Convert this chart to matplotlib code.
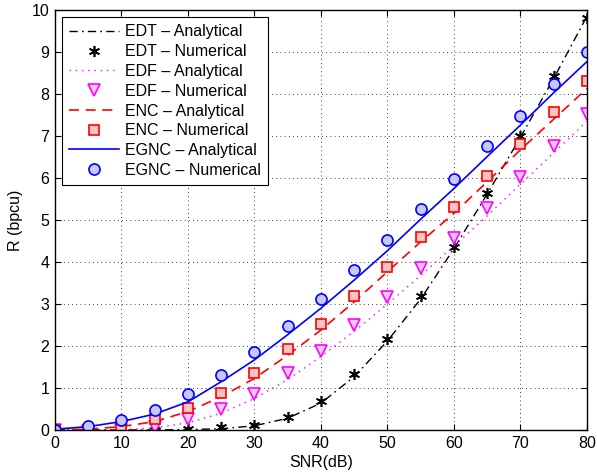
import numpy as np
import matplotlib
matplotlib.use('Agg')
import matplotlib.pyplot as plt

plt.rcParams['font.family'] = ['Liberation Sans', 'DejaVu Sans']
plt.rcParams['font.size'] = 11.5

# ---------------- DATA ----------------
snr = [0, 5, 10, 15, 20, 25, 30, 35, 40, 45, 50, 55, 60, 65, 70, 75, 80]

edt_ana = [0, 0, 0, 0, 0.01, 0.03, 0.1, 0.28, 0.64, 1.27, 2.12, 3.12, 4.32, 5.62, 6.97, 8.37, 9.85]
edt_num = [0, 0, 0, 0, 0.02, 0.06, 0.13, 0.32, 0.7, 1.33, 2.17, 3.19, 4.36, 5.65, 7.0, 8.43, 9.82]

edf_ana = [0, 0, 0.01, 0.05, 0.17, 0.4, 0.75, 1.2, 1.75, 2.35, 3.0, 3.68, 4.38, 5.1, 5.85, 6.6, 7.35]
edf_num = [0, -0.03, 0, 0.08, 0.25, 0.49, 0.86, 1.35, 1.89, 2.5, 3.17, 3.85, 4.57, 5.28, 6.02, 6.76, 7.52]

enc_ana = [0, 0.02, 0.08, 0.2, 0.44, 0.79, 1.23, 1.78, 2.38, 3.05, 3.77, 4.48, 5.16, 5.91, 6.67, 7.4, 8.13]
enc_num = [0, -0.01, 0.08, 0.25, 0.52, 0.89, 1.35, 1.92, 2.53, 3.19, 3.89, 4.6, 5.3, 6.05, 6.81, 7.56, 8.31]

egnc_ana = [0.02, 0.08, 0.2, 0.38, 0.67, 1.15, 1.67, 2.27, 2.9, 3.57, 4.27, 5.02, 5.75, 6.51, 7.26, 8.03, 8.77]
egnc_num = [0, 0.1, 0.24, 0.48, 0.85, 1.31, 1.86, 2.48, 3.13, 3.81, 4.53, 5.25, 5.98, 6.75, 7.48, 8.24, 9.0]

# ---------------- PLOT ----------------
fig = plt.figure(figsize=(5.97, 4.72), dpi=100)
ax = fig.add_axes([0.0921, 0.089, 0.8911, 0.8899])

ax.plot(snr, edt_ana, color='k', lw=1.0, dashes=(6, 3, 1.2, 3), label='EDT \u2013 Analytical')
ax.plot(snr, edt_num, ls='none', marker=(6, 2, 0), ms=8, mec='k', mew=1.2, color='k',
        label='EDT \u2013 Numerical')
ax.plot(snr, edf_ana, color='#ff00ff', lw=1.0, dashes=(1, 3.5), label='EDF \u2013 Analytical')
ax.plot(snr, edf_num, ls='none', marker='v', ms=8.5, mec='#ff00ff', mfc='#ffc8ff', mew=1.2,
        label='EDF \u2013 Numerical')
ax.plot(snr, enc_ana, color='#ff0000', lw=1.2, dashes=(6, 4), label='ENC \u2013 Analytical')
ax.plot(snr, enc_num, ls='none', marker='s', ms=6.5, mec='#ff0000', mfc='#f8c4c4', mew=1.2,
        label='ENC \u2013 Numerical')
ax.plot(snr, egnc_ana, color='#0000ff', lw=1.2, label='EGNC \u2013 Analytical')
ax.plot(snr, egnc_num, ls='none', marker='o', ms=8, mec='#0000ff', mfc='#c8c8f8', mew=1.2,
        label='EGNC \u2013 Numerical')

ax.set_xlim(0, 80)
ax.set_ylim(0, 10)
ax.set_xticks(range(0, 81, 10))
ax.set_yticks(range(0, 11))
ax.grid(True, color='k', ls=(0, (1, 4)), lw=0.6)
ax.tick_params(direction='in', top=True, right=True, length=4, width=0.8, pad=4)
for sp in ax.spines.values():
    sp.set_linewidth(1.0)
ax.set_xlabel('SNR(dB)', labelpad=3)
ax.set_ylabel('R (bpcu)', labelpad=6)

leg = ax.legend(loc='upper left', fancybox=False, framealpha=1,
                edgecolor='k', handlelength=3.1, handletextpad=0.4, labelspacing=0.3,
                borderpad=0.45, borderaxespad=0.45)
leg.get_frame().set_linewidth(0.8)

fig.savefig('out.png', dpi=100)
